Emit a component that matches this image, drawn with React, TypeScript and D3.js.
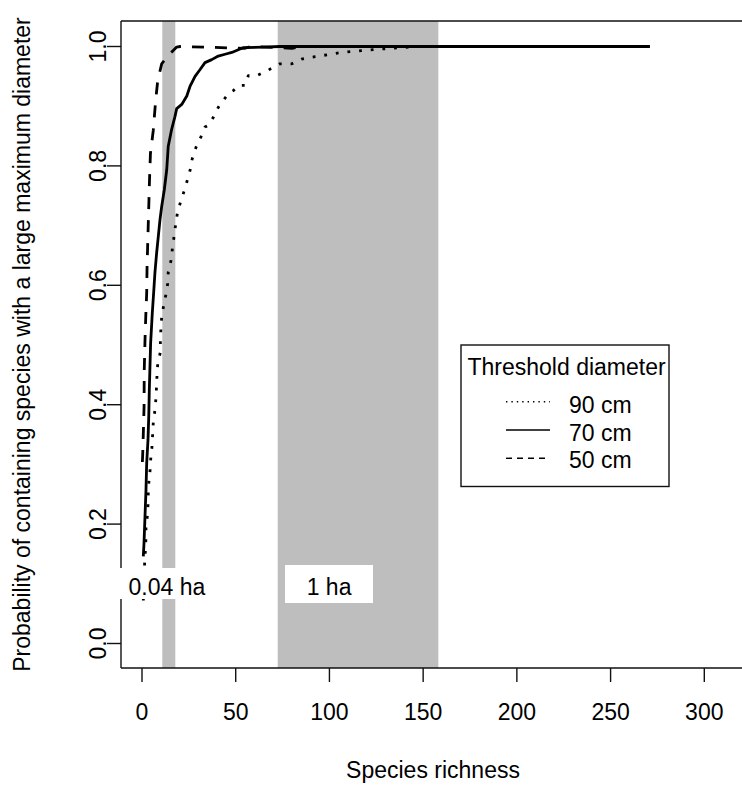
import React from 'react';
import * as d3 from 'd3';

// ---- data ----
const xTicks = [0, 50, 100, 150, 200, 250, 300];
const yTicks = [0, 0.2, 0.4, 0.6, 0.8, 1.0];

const richness90 = [0.7, 1.4, 1.8, 2.1, 2.1, 2.8, 3.2, 3.4, 4.3, 4.6, 5.3, 5.7, 6.0, 6.9, 7.5, 8.0, 8.4, 9.8, 9.8, 10.1, 10.5, 11.6, 12.8, 13.7, 14.0, 15.5, 16.2, 17.2, 18.0, 19.0, 20.8, 22.6, 23.9, 25.6, 26.8, 28.8, 31.5, 33.6, 35.4, 38.0, 40.7, 43.4, 46.1, 48.7, 51.4, 55.0, 56.7, 61.2, 66.5, 70.1, 73.6, 79.9, 85.2, 92.3, 98.6, 106.6, 113.7, 120.8, 128.8, 137.7, 146.6, 214];
const prob90 = [0.072, 0.134, 0.156, 0.176, 0.195, 0.212, 0.232, 0.262, 0.290, 0.307, 0.329, 0.352, 0.369, 0.391, 0.413, 0.449, 0.469, 0.488, 0.508, 0.528, 0.547, 0.567, 0.585, 0.603, 0.622, 0.642, 0.661, 0.684, 0.703, 0.723, 0.742, 0.759, 0.773, 0.792, 0.812, 0.831, 0.849, 0.865, 0.868, 0.881, 0.898, 0.910, 0.921, 0.926, 0.935, 0.935, 0.951, 0.951, 0.959, 0.965, 0.971, 0.971, 0.979, 0.983, 0.986, 0.990, 0.992, 0.994, 0.996, 0.998, 1.0, 1.0];

const richness70 = [0.7, 1.07, 1.6, 2.13, 2.5, 3.2, 3.6, 3.9, 4.6, 5.5, 6.2, 6.9, 7.8, 8.7, 9.6, 10.5, 11.9, 13.2, 14.0, 15.8, 17.6, 18.5, 21.2, 23.9, 25.6, 28.3, 30.9, 33.6, 37.2, 40.7, 44.3, 47.9, 53.9, 64.6, 73.6, 271];
const prob70 = [0.146, 0.168, 0.213, 0.257, 0.302, 0.341, 0.380, 0.425, 0.503, 0.554, 0.587, 0.621, 0.654, 0.682, 0.710, 0.732, 0.760, 0.794, 0.833, 0.861, 0.883, 0.896, 0.903, 0.917, 0.933, 0.950, 0.961, 0.973, 0.978, 0.984, 0.987, 0.990, 0.998, 0.999, 1.0, 1.0];

const richness50 = [0.2, 0.4, 0.7, 1.1, 1.2, 1.6, 2.0, 2.5, 2.7, 3.0, 3.4, 3.7, 4.0, 4.5, 6.0, 7.3, 8.4, 10.5, 13.2, 14.0, 18.5, 20.3, 55, 58, 80, 85, 262];
const prob50 = [0.304, 0.319, 0.352, 0.396, 0.458, 0.508, 0.547, 0.587, 0.631, 0.664, 0.709, 0.742, 0.776, 0.821, 0.859, 0.910, 0.943, 0.971, 0.982, 0.985, 0.999, 1.0, 0.997, 1.0, 0.997, 1.0, 1.0];

const bandFrom = [10.83, 72.4];
const bandTo = [17.77, 158.1];
const bandLabels = ['0.04 ha', '1 ha'];
const bandLabelX = [13.3, 99.8];

const legendTitle = 'Threshold diameter';
const legendLabels = ['90 cm', '70 cm', '50 cm'];

// ---- layout ----
const W = 742, H = 785;
const left = 121, right = 745, top = 21, bottom = 668;
const FONT = '"Liberation Sans", Arial, sans-serif';
const FS = 23;

const x = d3.scaleLinear().domain([0, 300]).range([142, 704.3]);
const y = d3.scaleLinear().domain([0, 1]).range([643.5, 46.5]);

const styles = [
  { width: 2.8, dash: '2.8 8.9', legendDash: '1.4 4' },
  { width: 2.8, dash: 'none', legendDash: 'none' },
  { width: 2.8, dash: '12 11', legendDash: '6 5' },
];

function path(xs: number[], ys: number[]) {
  const pts = xs.map((v, i) => [v, ys[i]] as [number, number]);
  return d3.line<[number, number]>().x(d => x(d[0])).y(d => y(d[1]))(pts) || '';
}

export default function App() {
  const series = [
    { xs: richness90, ys: prob90, s: styles[0] },
    { xs: richness70, ys: prob70, s: styles[1] },
    { xs: richness50, ys: prob50, s: styles[2] },
  ];
  const boxes = [
    { x0: 117, x1: 208, y0: 568, y1: 599 },
    { x0: 285, x1: 373, y0: 565, y1: 603 },
  ];
  const ax = { stroke: '#111', strokeWidth: 1.4 };
  return (
    <svg width={W} height={H} style={{ position: 'absolute', left: 0, top: 0, background: '#fff' }} fontFamily={FONT}>
      <rect x={0} y={0} width={W} height={H} fill="#fff" />
      {bandFrom.map((f, i) => (
        <rect key={i} x={x(f)} y={top} width={x(bandTo[i]) - x(f)} height={bottom - top} fill="#bebebe" />
      ))}
      {/* axes box */}
      <line x1={left} x2={right} y1={top} y2={top} {...ax} />
      <line x1={left} x2={right} y1={bottom} y2={bottom} {...ax} />
      <line x1={left} x2={left} y1={top} y2={bottom} {...ax} />
      {xTicks.map(t => (
        <g key={t}>
          <line x1={x(t)} x2={x(t)} y1={bottom} y2={bottom + 14} {...ax} />
          <text x={x(t)} y={720} textAnchor="middle" fontSize={FS} fill="#000">{t}</text>
        </g>
      ))}
      {yTicks.map(t => (
        <g key={t}>
          <line x1={left - 14} x2={left} y1={y(t)} y2={y(t)} {...ax} />
          <text transform={`translate(106,${y(t)}) rotate(-90)`} textAnchor="middle" fontSize={FS} fill="#000">{d3.format('.1f')(t)}</text>
        </g>
      ))}
      {series.map((sr, i) => (
        <path key={i} d={path(sr.xs, sr.ys)} fill="none" stroke="#000" strokeWidth={sr.s.width}
          strokeDasharray={sr.s.dash} strokeLinejoin="round" />
      ))}
      {boxes.map((b, i) => (
        <g key={i}>
          <rect x={b.x0} y={b.y0} width={b.x1 - b.x0} height={b.y1 - b.y0} fill="#fff" />
          <text x={x(bandLabelX[i])} y={y(0.095) + 8} textAnchor="middle" fontSize={FS} fill="#000">{bandLabels[i]}</text>
        </g>
      ))}
      {/* legend */}
      <rect x={461} y={345} width={208} height={141.5} fill="#fff" stroke="#111" strokeWidth={1.4} />
      <text x={467.5} y={375} fontSize={FS} fill="#000">{legendTitle}</text>
      {legendLabels.map((l, i) => (
        <g key={l}>
          <line x1={506} x2={550} y1={401.7 + i * 28.3} y2={401.7 + i * 28.3} stroke="#000" strokeWidth={1.4}
            strokeDasharray={styles[i].legendDash} />
          <text x={569} y={412.7 + i * 27.8} fontSize={FS} fill="#000">{l}</text>
        </g>
      ))}
      <text x={(left + right) / 2} y={778} textAnchor="middle" fontSize={FS} fill="#000">Species richness</text>
      <text transform={`translate(30,${(top + bottom) / 2}) rotate(-90)`} textAnchor="middle" fontSize={FS} fill="#000">
        Probability of containing species with a large maximum diameter
      </text>
    </svg>
  );
}
